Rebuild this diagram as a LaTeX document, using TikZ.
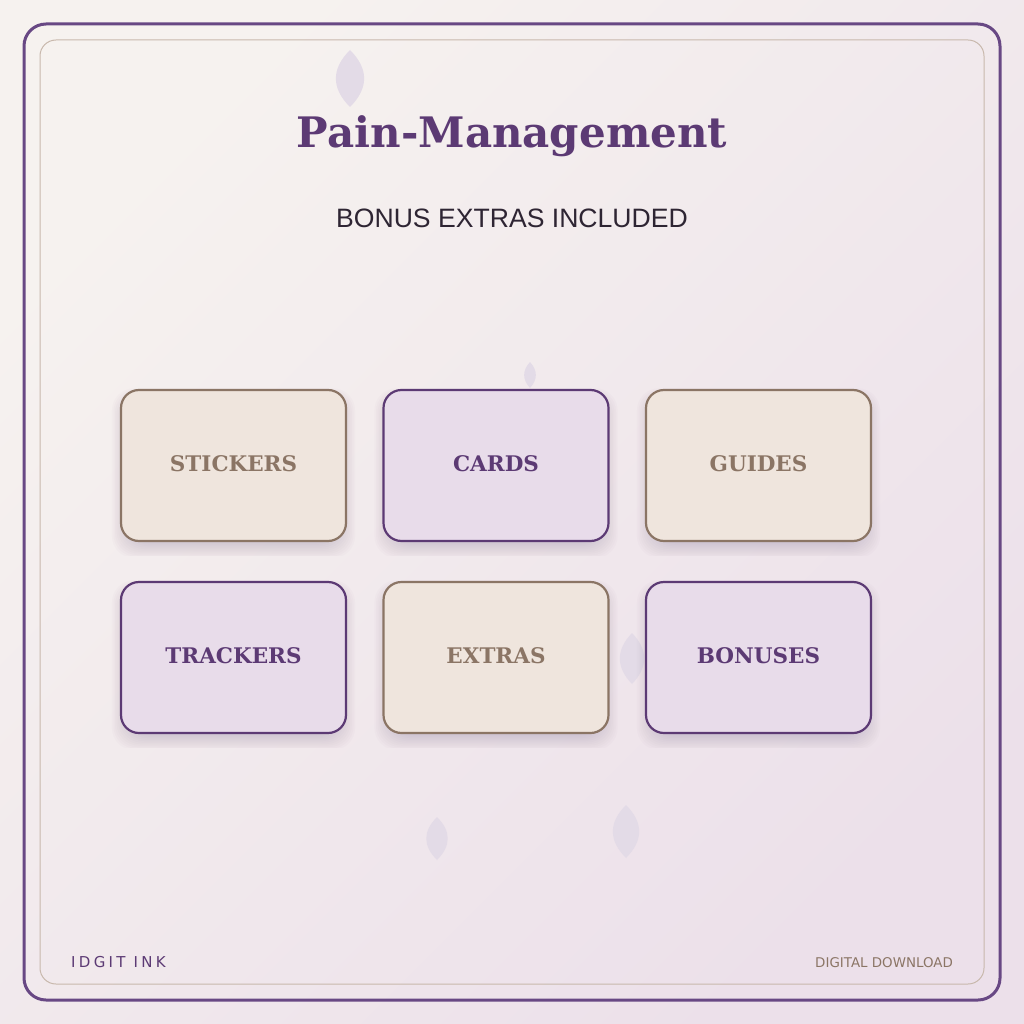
\documentclass[tikz,border=0pt]{standalone}
\usepackage{fontspec}
\newfontfamily\titlefont{DejaVu Serif}
\newfontfamily\subfont{Liberation Sans}
\newfontfamily\footfont{DejaVu Sans}
\newfontfamily\footspaced{DejaVu Sans}[LetterSpace=22]
\definecolor{bgA}{RGB}{246,242,239}
\definecolor{bgB}{RGB}{236,224,234}
\definecolor{plum}{RGB}{92,58,116}
\definecolor{frameplum}{RGB}{104,72,132}
\definecolor{taupe}{RGB}{139,117,101}
\definecolor{beige}{RGB}{239,229,221}
\definecolor{lilac}{RGB}{232,220,234}
\definecolor{leaf}{RGB}{227,219,231}
\definecolor{frametan}{RGB}{200,184,172}
\definecolor{ink}{RGB}{46,37,51}
\definecolor{shadowc}{RGB}{120,100,140}
\tikzset{
  cardbase/.style={rounded corners=18pt, minimum width=225pt, minimum height=151pt, line width=2.2pt, inner sep=0pt},
  cardbeige/.style={cardbase, draw=taupe, fill=beige},
  cardlilac/.style={cardbase, draw=plum, fill=lilac},
  cardtext/.style={inner sep=0pt, anchor=base, font=\titlefont\bfseries\fontsize{21.5}{24}\selectfont},
  leafshape/.style={fill=leaf, draw=none}
}
\newcommand\leafat[4]{% x, top, bottom, halfwidth
  \fill[leafshape] (#1,#2) .. controls ({#1+1.3*#4},{#2+0.33*(#3-#2)}) and ({#1+1.3*#4},{#2+0.67*(#3-#2)}) .. (#1,#3)
    .. controls ({#1-1.3*#4},{#2+0.67*(#3-#2)}) and ({#1-1.3*#4},{#2+0.33*(#3-#2)}) .. cycle;}
\newcommand\cardshadow[2]{% cx, cy
  \begin{scope}
    \clip ({#1-126},{#2-87}) rectangle ({#1+126},{#2+90});
    \foreach \k in {0,...,11}{
      \fill[shadowc, fill opacity=0.022, rounded corners=22pt]
        ({#1-104-\k*1.6},{#2-70+6-\k*1.2}) rectangle ({#1+104+\k*1.6},{#2+70+6+\k*1.5});
    }
  \end{scope}}
\begin{document}
\begin{tikzpicture}[x=1pt,y=-1pt]
\useasboundingbox (0,0) rectangle (1024,1024);
\shade[top color=bgA, bottom color=bgB, shading angle=45] (0,0) rectangle (1024,1024);
% frames
\draw[frameplum, line width=3pt, rounded corners=22pt] (24,24) rectangle (1000,1000);
\draw[frametan, line width=1pt, rounded corners=16pt] (40,40) rectangle (984,984);
% leaves
\leafat{350}{50}{107}{14.5}
\leafat{530}{362}{388}{6}
\leafat{632}{633}{684}{12.5}
\leafat{437}{817}{860}{11}
\leafat{626}{805}{858}{13.5}
% title
\node[font=\titlefont\bfseries\fontsize{42}{48}\selectfont, text=plum, anchor=base] (title) at (512,148) {Pain-Management};
\node[font=\subfont\fontsize{26.6}{30}\selectfont, text=ink, anchor=base] (subtitle) at (512,227) {BONUS EXTRAS INCLUDED};
% shadows
\cardshadow{233.5}{465.5}
\cardshadow{496}{465.5}
\cardshadow{758.5}{465.5}
\cardshadow{233.5}{657.5}
\cardshadow{496}{657.5}
\cardshadow{758.5}{657.5}
% cards
\node[cardbeige] (stickers) at (233.5,465.5) {};
\node[cardlilac] (cards) at (496,465.5) {};
\node[cardbeige] (guides) at (758.5,465.5) {};
\node[cardlilac] (trackers) at (233.5,657.5) {};
\node[cardbeige] (extras) at (496,657.5) {};
\node[cardlilac] (bonuses) at (758.5,657.5) {};
\node[cardtext, text=taupe] (stickers-t) at ([yshift=-5.5]stickers.center) {STICKERS};
\node[cardtext, text=plum] (cards-t) at ([yshift=-5.5]cards.center) {CARDS};
\node[cardtext, text=taupe] (guides-t) at ([yshift=-5.5]guides.center) {GUIDES};
\node[cardtext, text=plum] (trackers-t) at ([yshift=-5.5]trackers.center) {TRACKERS};
\node[cardtext, text=taupe] (extras-t) at ([yshift=-5.5]extras.center) {EXTRAS};
\node[cardtext, text=plum] (bonuses-t) at ([yshift=-5.5]bonuses.center) {BONUSES};
% footer
\node[font=\footspaced\fontsize{15}{18}\selectfont, text=plum, anchor=base west, inner sep=0pt] (brand) at (71,967) {IDGIT INK};
\node[font=\footfont\fontsize{13.4}{16}\selectfont, text=taupe, anchor=base east, inner sep=0pt] (dl) at (953,967) {DIGITAL DOWNLOAD};
\end{tikzpicture}
\end{document}
